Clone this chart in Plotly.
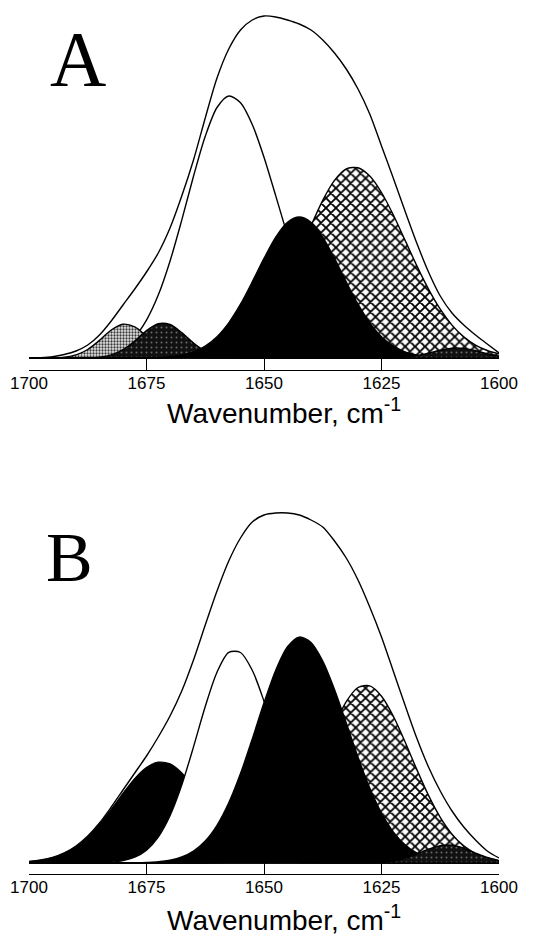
import plotly.graph_objects as go

# ---------------- data (arbitrary absorbance units) ----------------
wavenumber = [1700.0, 1697.5, 1695.0, 1692.5, 1690.0, 1687.5, 1685.0, 1682.5, 1680.0, 1677.5,
              1675.0, 1672.5, 1670.0, 1667.5, 1665.0, 1662.5, 1660.0, 1657.5, 1655.0, 1652.5,
              1650.0, 1647.5, 1645.0, 1642.5, 1640.0, 1637.5, 1635.0, 1632.5, 1630.0, 1627.5,
              1625.0, 1622.5, 1620.0, 1617.5, 1615.0, 1612.5, 1610.0, 1607.5, 1605.0, 1602.5,
              1600.0]

# Panel A
a_envelope = [0, 0.3, 1.2, 3.5, 7, 13, 23, 37, 53, 69,
              86, 105, 130, 162, 198, 240, 280, 309, 328, 338,
              342, 341, 338, 334, 328, 318, 305, 289, 269, 244,
              212, 180, 147, 115, 86, 62, 45, 33, 23, 14,
              5]
a_band_1680 = [0, 0.03, 0.2, 0.9, 3.1, 8.5, 17.6, 28.0, 33.8, 31.2,
               21.9, 11.7, 4.8, 1.5, 0.35, 0.06, 0, 0, 0, 0,
               0, 0, 0, 0, 0, 0, 0, 0, 0, 0,
               0, 0, 0, 0, 0, 0, 0, 0, 0, 0,
               0]
a_band_1672 = [0, 0, 0, 0, 0.04, 0.2, 0.9, 3.1, 8.3, 17.0,
               27.4, 34.3, 33.5, 25.4, 15.0, 6.9, 2.5, 0.7, 0.15, 0,
               0, 0, 0, 0, 0, 0, 0, 0, 0, 0,
               0, 0, 0, 0, 0, 0, 0, 0, 0, 0,
               0]
a_band_1657 = [0, 0, 0, 0.1, 0.4, 0.9, 2.3, 5.2, 10.9, 21.1,
               37.9, 62.9, 96.8, 137.9, 181.7, 221.7, 250.5, 262.0, 255.2, 233.5,
               200.8, 162.1, 123.0, 87.6, 58.7, 36.9, 21.8, 12.1, 6.3, 3.1,
               1.4, 0.6, 0.25, 0, 0, 0, 0, 0, 0, 0,
               0]
a_band_1643 = [0, 0, 0, 0, 0, 0, 0, 0, 0, 0.07,
               0.2, 0.5, 1.3, 3.0, 6.2, 11.9, 21.3, 35.2, 53.8, 76.1,
               99.6, 120.9, 135.7, 141.0, 135.7, 120.9, 99.6, 76.1, 53.8, 35.2,
               21.3, 11.9, 6.2, 3.0, 1.3, 0.5, 0.2, 0.05, 0, 0,
               0]
a_band_1631 = [0, 0, 0, 0, 0, 0, 0, 0, 0, 0,
               0, 0, 0.2, 0.5, 1.0, 2.1, 4.2, 7.9, 14.0, 23.5,
               37.2, 55.6, 78.5, 104.8, 132.3, 157.7, 177.6, 189.1, 190.2, 181.9,
               165.5, 143.2, 117.9, 92.4, 68.9, 48.8, 32.9, 21.1, 12.9, 7.5,
               4.1]
a_band_1609 = [0, 0, 0, 0, 0, 0, 0, 0, 0, 0,
               0, 0, 0, 0, 0, 0, 0, 0, 0, 0,
               0, 0, 0, 0, 0, 0, 0, 0, 0, 0,
               0.06, 0.26, 0.9, 2.4, 4.9, 7.8, 9.8, 9.6, 7.3, 4.3,
               2.0]

# Panel B
b_envelope = [1.5, 3, 5.5, 10, 17, 27, 40, 56, 73, 90,
              107, 126, 147, 172, 203, 238, 272, 302, 325, 341,
              348, 350, 350, 348, 343, 336, 322, 305, 283, 256,
              226, 192, 158, 125, 96, 72, 52, 36, 23, 12,
              5]
b_band_1672 = [1.2, 2.6, 5.1, 9.4, 16.1, 25.8, 38.5, 53.6, 69.6, 84.4,
               95.4, 100.7, 99.0, 90.1, 75.9, 59.2, 42.7, 28.6, 17.7, 10.1,
               5.4, 2.6, 1.2, 0.5, 0.2, 0, 0, 0, 0, 0,
               0, 0, 0, 0, 0, 0, 0, 0, 0, 0,
               0]
b_band_1656 = [0, 0, 0, 0, 0, 0, 0.3, 0.9, 2.4, 5.8,
               12.9, 26.0, 47.3, 78.0, 116.1, 156.5, 190.8, 210.6, 210.5, 192.7,
               161.8, 124.6, 88.0, 57.0, 33.9, 18.4, 9.2, 4.2, 1.8, 0.7,
               0.2, 0, 0, 0, 0, 0, 0, 0, 0, 0,
               0]
b_band_1642 = [0, 0, 0, 0, 0, 0, 0, 0, 0, 0,
               0.5, 1.2, 2.8, 6.0, 11.9, 21.9, 37.6, 60.1, 89.4, 124.0,
               160.2, 192.8, 216.2, 225.9, 220.5, 201.9, 173.5, 139.9, 105.8, 75.0,
               50.0, 31.2, 18.3, 10.1, 5.2, 2.5, 1.1, 0.5, 0.2, 0.1,
               0]
b_band_1628 = [0, 0, 0, 0, 0, 0, 0, 0, 0, 0,
               0, 0, 0, 0, 0, 0, 0.4, 1.0, 2.3, 5.1,
               10.3, 19.2, 33.1, 53.1, 78.7, 108.0, 137.1, 161.3, 175.5, 177.1,
               166.8, 147.0, 121.3, 93.6, 67.6, 45.7, 28.9, 17.1, 9.5, 4.9,
               2.4]
b_band_1611 = [0, 0, 0, 0, 0, 0, 0, 0, 0, 0,
               0, 0, 0, 0, 0, 0, 0, 0, 0, 0,
               0, 0, 0, 0, 0, 0, 0, 0, 0, 0,
               0.7, 2.0, 4.7, 9.0, 13.8, 17.3, 17.7, 14.7, 9.9, 5.5,
               2.4]

tick_vals = [1700, 1675, 1650, 1625, 1600]
tick_text = ["1700", "1675", "1650", "1625", "1600"]
panel_labels = ["A", "B"]
axis_title = "Wavenumber, cm<sup>-1</sup>"

# ---------------- geometry / styles ----------------
OFF = 8                      # page body margin of the html page
W, H = 534 - OFF, 937 - OFF  # figure size so that it fits the window
SANS = "Liberation Sans, Arial, sans-serif"
SERIF = "Liberation Serif, Times New Roman, serif"
LINE = dict(color="black", width=1.4, shape="spline", smoothing=0.8)


def px_x(p):
    return (p - OFF) / W


def px_y(p):
    return 1 - (p - OFF) / H


STYLES = {
    "white": dict(fill="tozeroy", fillcolor="white"),
    "black": dict(fill="tozeroy", fillcolor="black"),
    "dark": dict(fill="tozeroy", fillcolor="#151515",
                 fillpattern=dict(shape=".", fgcolor="#6a6a6a", bgcolor="#111111",
                                  size=5, solidity=0.12, fillmode="replace")),
    "gray": dict(fill="tozeroy", fillcolor="#cfcfcf",
                 fillpattern=dict(shape=".", fgcolor="#3a3a3a", bgcolor="#e6e6e6",
                                  size=3, solidity=0.45, fillmode="replace")),
    "hatch": dict(fill="tozeroy", fillcolor="white",
                  fillpattern=dict(shape="x", fgcolor="black", bgcolor="white",
                                   size=7, solidity=0.45, fillmode="replace")),
    "outline": dict(fill="none"),
}

fig = go.Figure()


def add(y, style, xa, ya):
    fig.add_trace(go.Scatter(x=wavenumber, y=y, mode="lines", line=LINE,
                             xaxis=xa, yaxis=ya, hoverinfo="skip",
                             **STYLES[style]))


# Panel A (drawing order = stacking order)
add(a_envelope, "outline", "x", "y")
add(a_band_1657, "white", "x", "y")
add(a_band_1680, "gray", "x", "y")
add(a_band_1672, "dark", "x", "y")
add(a_band_1631, "hatch", "x", "y")
add(a_band_1643, "black", "x", "y")
add(a_band_1609, "dark", "x", "y")

# Panel B
add(b_envelope, "outline", "x2", "y2")
add(b_band_1672, "black", "x2", "y2")
add(b_band_1656, "white", "x2", "y2")
add(b_band_1628, "hatch", "x2", "y2")
add(b_band_1642, "black", "x2", "y2")
add(b_band_1611, "dark", "x2", "y2")

xdom = [px_x(29), px_x(499)]


def xaxis_cfg(anchor):
    return dict(domain=xdom, range=[1700, 1600], anchor=anchor, automargin=False,
                tickmode="array", tickvals=tick_vals, ticktext=tick_text,
                ticks="inside", ticklen=11, tickwidth=1.3, tickcolor="black",
                ticklabelstandoff=-3,
                showline=True, linecolor="black", linewidth=1.3,
                showgrid=False, zeroline=False,
                tickfont=dict(family=SANS, size=17, color="black"))


def ydom(top_px, bottom_px):
    return [px_y(bottom_px), px_y(top_px)]


fig.update_layout(
    width=W, height=H,
    margin=dict(l=0, r=0, t=0, b=0, autoexpand=False),
    paper_bgcolor="white", plot_bgcolor="white",
    showlegend=False,
    xaxis=xaxis_cfg("y"),
    yaxis=dict(domain=ydom(10, 370), range=[-12, 348], visible=False,
               fixedrange=True, automargin=False),
    xaxis2=xaxis_cfg("y2"),
    yaxis2=dict(domain=ydom(500, 874), range=[-11, 363], visible=False,
                fixedrange=True, automargin=False),
    shapes=[
        dict(type="line", xref="x", yref="y", x0=1700, x1=1600, y0=0, y1=0,
             line=dict(color="black", width=1.3), layer="above"),
        dict(type="line", xref="x2", yref="y2", x0=1700, x1=1600, y0=0, y1=0,
             line=dict(color="black", width=1.3), layer="above"),
    ],
    annotations=[
        dict(text=panel_labels[0], x=px_x(78), y=px_y(59), xref="paper", yref="paper",
             xanchor="center", yanchor="middle", showarrow=False,
             font=dict(family=SERIF, size=78, color="black")),
        dict(text=panel_labels[1], x=px_x(69), y=px_y(557), xref="paper", yref="paper",
             xanchor="center", yanchor="middle", showarrow=False,
             font=dict(family=SERIF, size=70, color="black")),
        dict(text=axis_title, x=px_x(284), y=px_y(411), xref="paper", yref="paper",
             xanchor="center", yanchor="middle", showarrow=False,
             font=dict(family=SANS, size=28, color="black")),
        dict(text=axis_title, x=px_x(284), y=px_y(918), xref="paper", yref="paper",
             xanchor="center", yanchor="middle", showarrow=False,
             font=dict(family=SANS, size=28, color="black")),
    ],
)

fig.write_html("out.html")
